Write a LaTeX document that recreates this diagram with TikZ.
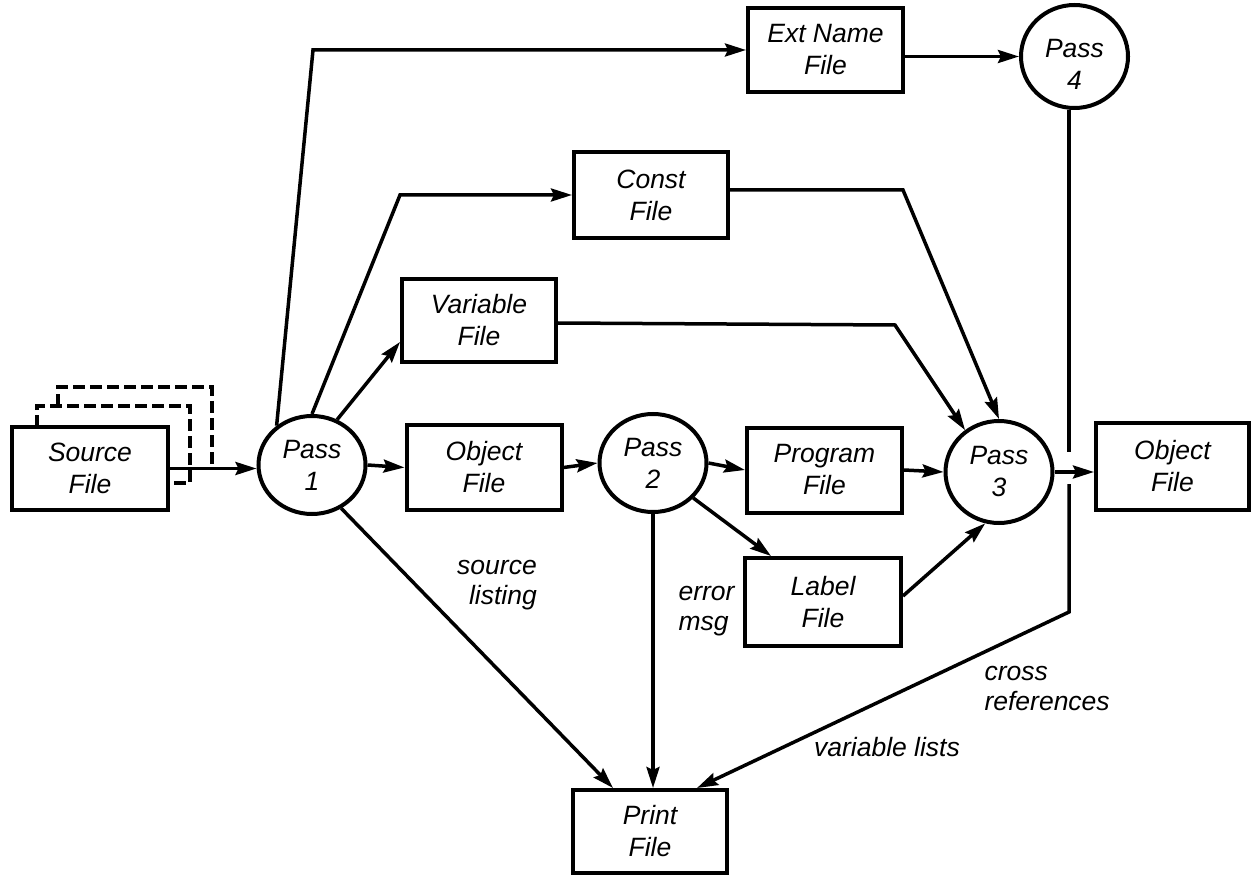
\documentclass[tikz,border=0pt]{standalone}
\usepackage{fontspec}
\setmainfont{Liberation Sans}
\usetikzlibrary{arrows.meta,calc,shapes.geometric}
\tikzset{
  txt/.style={font=\itshape\fontsize{26.5}{32}\selectfont, align=center},
  filebox/.style={txt, draw, rectangle, line width=4pt, fill=white, inner sep=0pt,
    minimum width=155pt, minimum height=85pt},
  passnode/.style={txt, draw, ellipse, line width=4pt, fill=white, inner sep=0pt,
    minimum width=107pt, minimum height=98pt},
  conn/.style={line width=3.5pt},
  arr/.style={conn, -{Stealth[length=21pt,width=13pt,inset=3pt]}},
  dashline/.style={line width=3.4pt, dash pattern=on 12pt off 5pt},
  lbl/.style={font=\itshape\fontsize{26.5}{30}\selectfont}
}
\begin{document}
\begin{tikzpicture}[x=1pt,y=-1pt]
\useasboundingbox (0,0) rectangle (1251,877);
% stacked source copies
\draw[dashline] (37,427) -- (37,406) -- (190,406) -- (190,483) -- (168,483);
\draw[dashline] (58,406) -- (58,387) -- (212,387) -- (212,466);
% nodes
\node[filebox, minimum width=156pt, minimum height=83pt] (src) at (90,468.5) {Source\\File};
\node[passnode] (p1) at (312,465) {Pass\\1};
\node[filebox] (obj1) at (484,467.5) {Object\\File};
\node[passnode] (p2) at (653,463) {Pass\\2};
\node[filebox] (prog) at (824.5,470) {Program\\File};
\node[passnode, minimum height=102pt] (p3) at (999,472) {Pass\\3};
\node[filebox, minimum width=153pt, minimum height=87pt] (obj2) at (1172.5,466.5) {Object\\File};
\node[filebox, minimum height=84pt] (ext) at (825.5,50) {Ext Name\\File};
\node[passnode, minimum height=103pt] (p4) at (1074.5,56.5) {};
\node[txt] (p4t) at (1074.5,64) {Pass\\4};
\node[filebox, minimum width=154pt, minimum height=86pt] (const) at (651,195) {Const\\File};
\node[filebox, minimum width=154pt, minimum height=83pt] (var) at (479,320.5) {Variable\\File};
\node[filebox, minimum width=156pt, minimum height=88pt] (label) at (823,602) {Label\\File};
\node[filebox, minimum width=154pt, minimum height=83pt] (print) at (650,831.5) {Print\\File};
% connectors
\draw[arr] (src.east) -- (src.east -| p1.west);
\draw[arr] (p1.132) -- (313,50) -- (ext.west);
\draw[arr] (p1.north) -- (400,195) -- (const.west);
\draw[arr] (p1.61) -- ($(var.west)+(0,21.5)$);
\draw[arr] (p1.east) -- (obj1.west);
\draw[arr] (p1.-56) -- ($(print.north west)+(42,0)$);
\draw[arr] (obj1.east) -- (p2.west);
\draw[arr] (p2.east) -- (prog.west);
\draw[arr] (p2.-41) -- ($(label.north west)+(28,0)$);
\draw[arr] (p2.south) -- (p2.south |- print.north);
\draw[arr] (prog.east) -- (p3.west);
\draw[arr] ($(const.east)+(0,-5)$) -- (903,190) -- (p3.north);
\draw[arr] ($(var.east)+(0,2.5)$) -- (895,325) -- (p3.129);
\draw[arr] ($(label.east)+(0,-6)$) -- (p3.-105);
\draw[arr] (p3.east) -- (p3.east -| obj2.west);
\draw[arr] (ext.east |- p4.west) -- (p4.west);
\coordinate (v1) at (1069,452);
\coordinate (v2) at (1069,484);
\coordinate (v3) at (1069,612);
\draw[conn] (p4.south -| v1) -- (v1);
\draw[arr] (v2) -- (v3) -- ($(print.north east)+(-32,0)$);
% labels
\node[lbl, align=right] (ls) at (497,585) {source\\listing};
\node[lbl, align=left, anchor=west] (le) at (675,611) {error\\msg};
\node[lbl, align=left, anchor=west] (lc) at (981,688) {cross\\references};
\node[lbl] (lv) at (887,747) {variable lists};
\end{tikzpicture}
\end{document}
